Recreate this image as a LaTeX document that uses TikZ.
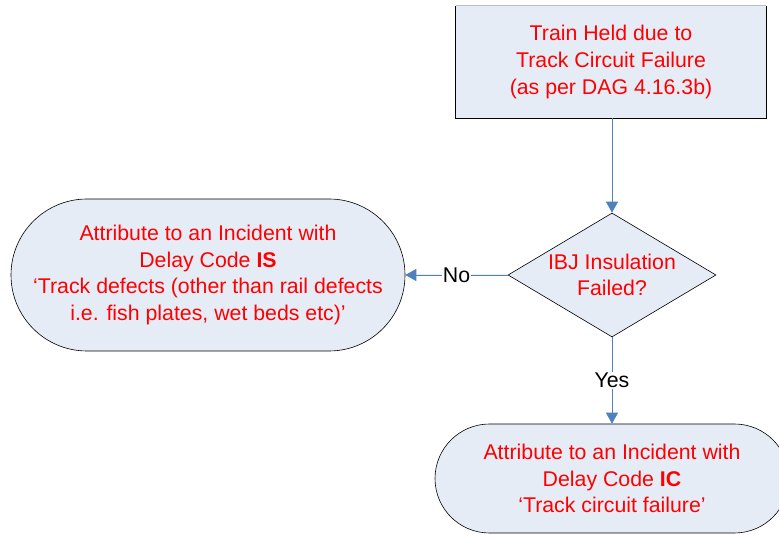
\documentclass[tikz,border=0pt]{standalone}
\usepackage{fontspec}
\setmainfont{Liberation Sans}
\usetikzlibrary{shapes.geometric,shapes.misc,arrows.meta}
\definecolor{boxfill}{RGB}{230,236,246}
\definecolor{linkblue}{RGB}{79,129,189}
\definecolor{txtred}{RGB}{255,0,0}
\tikzset{
  every node/.style={font=\fontsize{21.3}{26.6}\selectfont},
  procbox/.style={rectangle, fill=boxfill, draw=none, minimum width=310pt, minimum height=112pt, align=center, text=txtred},
  decbox/.style={diamond, aspect=1.68, fill=boxfill, draw=black, line width=0.6pt, minimum width=208pt, minimum height=124pt, inner sep=0pt, align=center, text=txtred},
  termbox/.style={rounded rectangle, fill=boxfill, draw=black, line width=0.6pt, align=center, text=txtred, inner sep=0pt},
  link/.style={draw=linkblue, line width=0.8pt, -{Triangle[length=11pt,width=12pt]}, fill=linkblue},
  lbl/.style={fill=white, inner sep=1pt, text=black}
}
\begin{document}
\begin{tikzpicture}[x=1pt,y=1pt]
\useasboundingbox (0,0) rectangle (779,535);
\fill[white] (0,0) rectangle (779,535);
% top process box
\node[procbox] (start) at (611,473) {Train Held due to\\Track Circuit Failure\\(as per DAG 4.16.3b)};
\draw[black!25, line width=0.6pt] (start.north west) -- (start.north east);
\draw[black, line width=0.8pt] (start.north west) -- (start.south west) -- (start.south east) -- (start.north east);
% decision
\node[decbox] (dec) at (612,260) {IBJ Insulation\\Failed?};
% left terminal
\node[termbox, minimum width=394pt, minimum height=152pt] (is) at (208,260) {Attribute to an Incident with\\Delay Code \textbf{IS}\\‘Track defects (other than rail defects\\i.e. fish plates, wet beds etc)’};
% bottom terminal
\node[termbox, minimum width=354pt, minimum height=109pt] (ic) at (612,56.5) {Attribute to an Incident with\\Delay Code \textbf{IC}\\‘Track circuit failure’};
% connectors
\draw[link] (start.south -| dec.north) -- (dec.north);
\draw[link] (dec.west) -- node[lbl, pos=0.5] (no) {No} (is.east);
\draw[link] (dec.south) -- node[lbl, pos=0.5] (yes) {Yes} (ic.north);
\end{tikzpicture}
\end{document}
